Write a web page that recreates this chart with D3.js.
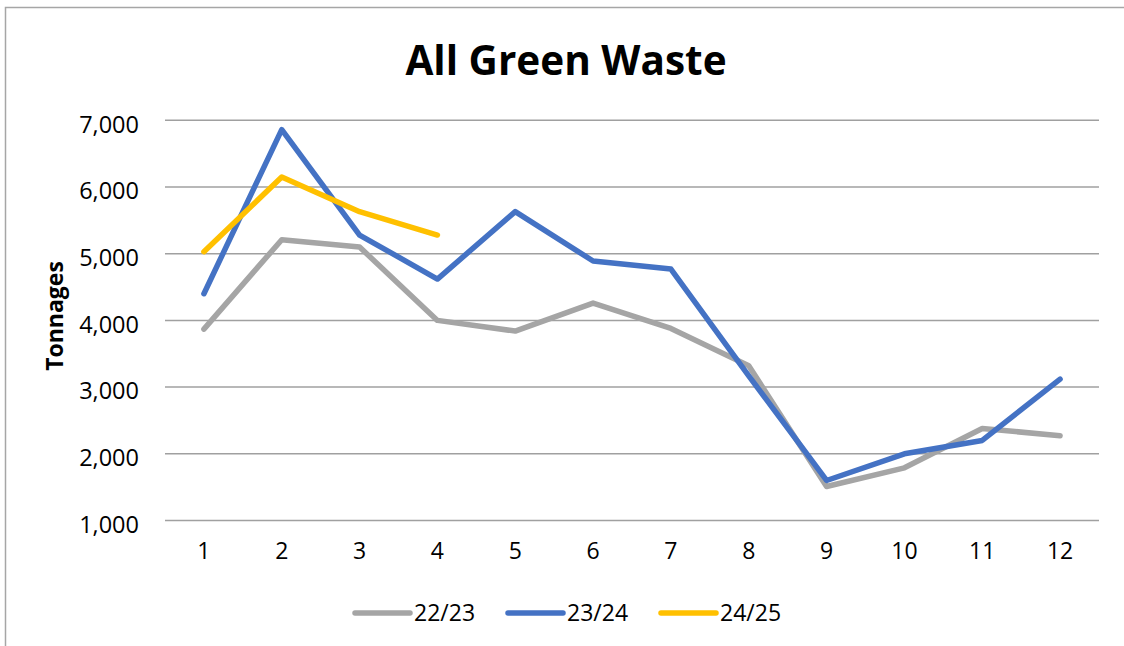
<!DOCTYPE html>
<html><head><meta charset="utf-8">
<script src="https://cdn.jsdelivr.net/npm/d3@7"></script>
<style>body{margin:0;background:#fff;} svg{display:block;}</style>
</head><body>
<svg id="c" width="1124" height="646"></svg>
<script>
const months = ["1","2","3","4","5","6","7","8","9","10","11","12"];
const s2223 = [3870, 5210, 5100, 4000, 3840, 4260, 3880, 3320, 1510, 1790, 2380, 2270];
const s2324 = [4400, 6860, 5280, 4620, 5630, 4890, 4770, 3170, 1600, 2000, 2200, 3120];
const s2425 = [5030, 6150, 5630, 5280];
const seriesNames = ["22/23", "23/24", "24/25"];
const seriesColors = ["#A5A5A5", "#4472C4", "#FFC000"];
const yTicks = [1000, 2000, 3000, 4000, 5000, 6000, 7000];
const title = "All Green Waste";
const yTitle = "Tonnages";

const svg = d3.select("#c");
const font = "'Open Sans', sans-serif";

// frame
svg.append("rect").attr("x", 5.5).attr("y", 7.5).attr("width", 1130).attr("height", 660)
  .attr("fill", "none").attr("stroke", "#a6a6a6").attr("stroke-width", 1.5);

const x = d3.scaleBand().domain(months).range([165, 1099]);
const y = d3.scaleLinear().domain([1000, 7000]).range([520.5, 120.3]);

// gridlines
svg.append("g").selectAll("line").data(yTicks).join("line")
  .attr("x1", 165).attr("x2", 1099)
  .attr("y1", d => y(d)).attr("y2", d => y(d))
  .attr("stroke", "#a0a0a0").attr("stroke-width", 1.5);

// y axis
const yAxis = svg.append("g").attr("transform", "translate(165,0)")
  .call(d3.axisLeft(y).tickValues(yTicks).tickFormat(d3.format(",")).tickSize(0).tickPadding(26));
yAxis.select(".domain").remove();
yAxis.selectAll("text").attr("font-family", font).attr("font-size", 23.5).attr("fill", "#000").attr("dy", "0.5em");

// x axis
const xAxis = svg.append("g").attr("transform", "translate(0,520.5)")
  .call(d3.axisBottom(x).tickSize(0).tickPadding(22));
xAxis.select(".domain").remove();
xAxis.selectAll("text").attr("font-family", font).attr("font-size", 23).attr("fill", "#000");

// title
svg.append("text").attr("x", 566).attr("y", 75).attr("text-anchor", "middle")
  .attr("font-family", font).attr("font-weight", "bold").attr("font-size", 40.5).attr("fill", "#000")
  .text(title);

svg.append("text").attr("transform", "translate(63,316) rotate(-90)").attr("text-anchor", "middle")
  .attr("font-family", font).attr("font-weight", "bold").attr("font-size", 23).attr("fill", "#000")
  .text(yTitle);

// lines
const line = d3.line().x((d, i) => x(months[i]) + x.bandwidth() / 2).y(d => y(d));
const allSeries = [s2223, s2324, s2425];
svg.append("g").selectAll("path").data(allSeries).join("path")
  .attr("d", d => line(d)).attr("fill", "none")
  .attr("stroke", (d, i) => seriesColors[i]).attr("stroke-width", 5.5)
  .attr("stroke-linejoin", "round").attr("stroke-linecap", "round");

// legend
const legX = [355, 508, 661];
const leg = svg.append("g").selectAll("g").data(seriesNames).join("g")
  .attr("transform", (d, i) => `translate(${legX[i]},613)`);
leg.append("line").attr("x1", 0).attr("x2", 55).attr("y1", 0).attr("y2", 0)
  .attr("stroke", (d, i) => seriesColors[i]).attr("stroke-width", 5.5).attr("stroke-linecap", "round");
leg.append("text").attr("x", 59).attr("y", 0).attr("dy", "0.36em")
  .attr("font-family", font).attr("font-size", 23).attr("fill", "#000").text(d => d);
</script>
</body></html>
